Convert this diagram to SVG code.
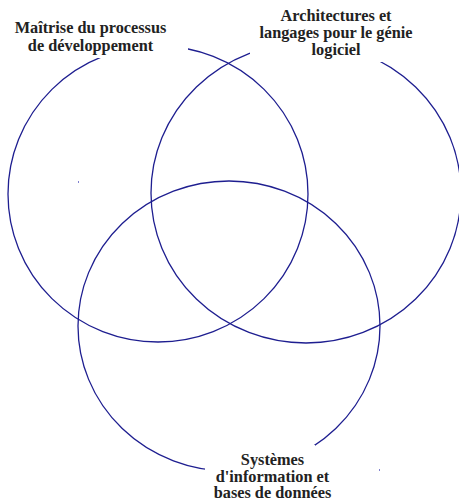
<svg xmlns="http://www.w3.org/2000/svg" width="459" height="501" viewBox="0 0 459 501">
<style>
.set{fill:none;stroke:#1e1e90;stroke-width:1.3}
.bg{fill:#ffffff}
.lbl{font-weight:bold;font-size:16.3px;fill:#222222;text-anchor:middle}
.dot{fill:#8080d0}
</style>
<rect width="459" height="501" fill="#ffffff"/>
<g id="sets">
<ellipse class="set" cx="158" cy="194" rx="150" ry="148"/>
<ellipse class="set" cx="306" cy="193" rx="155" ry="150"/>
<ellipse class="set" cx="229" cy="326" rx="151" ry="145"/>
<rect class="dot" x="78" y="181" width="1" height="2"/>
<rect class="dot" x="379" y="469" width="1" height="2"/>
</g>
<g font-family="'Liberation Serif', 'DejaVu Serif', serif">
<g id="label-maitrise">
<rect class="bg" x="-10" y="0" width="198" height="58"/>
<text class="lbl" x="90.5" y="33.3">Maîtrise du processus</text>
<text class="lbl" x="90.5" y="50.5">de développement</text>
</g>
<g id="label-architectures">
<rect class="bg" x="250" y="0" width="215" height="62"/>
<text class="lbl" x="336" y="20.7">Architectures et</text>
<text class="lbl" x="336" y="37.6">langages pour le génie</text>
<text class="lbl" x="336" y="54.6">logiciel</text>
</g>
<g id="label-systemes">
<rect class="bg" x="205" y="445" width="110" height="60"/>
<text class="lbl" x="272.5" y="465">Systèmes</text>
<text class="lbl" x="272.5" y="481.7">d'information et</text>
<text class="lbl" x="272.5" y="498.3">bases de données</text>
</g>
</g>
</svg>
